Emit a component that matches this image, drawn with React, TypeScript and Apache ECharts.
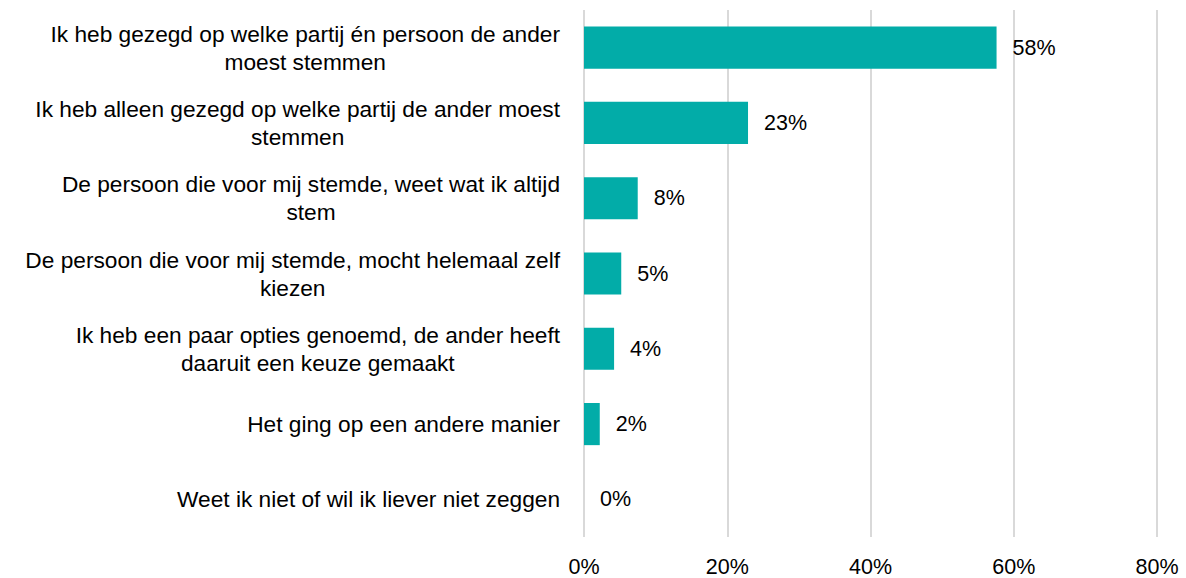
import React, { useEffect, useRef } from "react";
import * as echarts from "echarts";

const categories: string[] = [
  "Ik heb gezegd op welke partij én persoon de ander\nmoest stemmen",
  "Ik heb alleen gezegd op welke partij de ander moest\nstemmen",
  "De persoon die voor mij stemde, weet wat ik altijd\nstem",
  "De persoon die voor mij stemde, mocht helemaal zelf\nkiezen",
  "Ik heb een paar opties genoemd, de ander heeft\ndaaruit een keuze gemaakt",
  "Het ging op een andere manier",
  "Weet ik niet of wil ik liever niet zeggen",
];

const values: number[] = [57.6, 22.9, 7.5, 5.2, 4.2, 2.2, 0];

const xTicks = { min: 0, max: 80, interval: 20 };

const BAR_COLOR = "#02ACA8";
const FONT = "'Liberation Sans', Arial, sans-serif";

export default function App() {
  const ref = useRef<HTMLDivElement>(null);

  useEffect(() => {
    if (!ref.current) return;
    const chart = echarts.init(ref.current, undefined, { renderer: "svg" });
    chart.setOption({
      animation: false,
      backgroundColor: "#ffffff",
      grid: { left: 584, right: 29, top: 10, bottom: 38.5 },
      xAxis: {
        type: "value",
        min: xTicks.min,
        max: xTicks.max,
        interval: xTicks.interval,
        axisLine: { show: false },
        axisTick: { show: false },
        splitLine: { show: true, lineStyle: { color: "#d9d9d9", width: 2 } },
        axisLabel: {
          formatter: "{value}%",
          color: "#000000",
          fontFamily: FONT,
          fontSize: 21.5,
          margin: 19,
        },
      },
      yAxis: {
        type: "category",
        inverse: true,
        data: categories,
        axisLine: { show: false },
        axisTick: { show: false },
        axisLabel: {
          margin: 24,
          align: "right",
          formatter: (v: string) =>
            v
              .split("\n")
              .map((l) => `{c|${l}}`)
              .join("\n"),
          rich: {
            c: {
              align: "center",
              fontFamily: FONT,
              fontSize: 22.7,
              lineHeight: 28,
              color: "#000000",
            },
          },
        },
      },
      series: [
        {
          type: "bar",
          data: values,
          barCategoryGap: "44%",
          itemStyle: { color: BAR_COLOR },
          label: {
            show: true,
            position: "right",
            distance: 16,
            formatter: (p: any) => `${Math.round(p.value)}%`,
            color: "#000000",
            fontFamily: FONT,
            fontSize: 21.5,
          },
        },
      ],
    });
    return () => chart.dispose();
  }, []);

  return (
    <div
      ref={ref}
      style={{ position: "fixed", left: 0, top: 0, width: 1186, height: 578 }}
    />
  );
}
